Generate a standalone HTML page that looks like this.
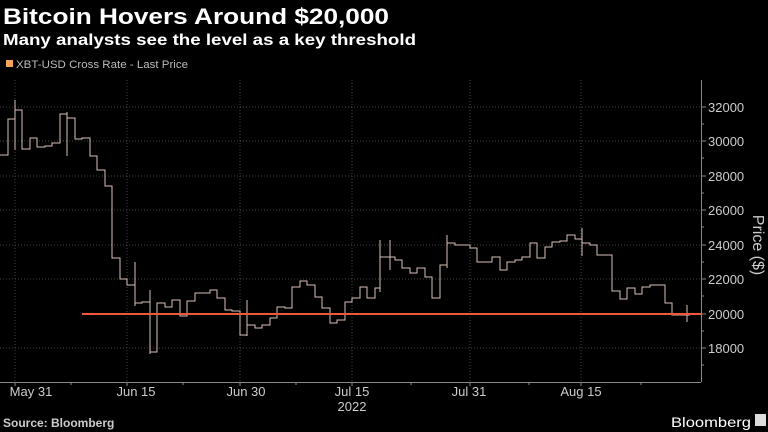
<!DOCTYPE html>
<html><head><meta charset="utf-8"><style>
html,body{margin:0;padding:0;background:#000;width:768px;height:432px;overflow:hidden}
svg{display:block}
text{font-family:"Liberation Sans",sans-serif}
</style></head><body>
<svg width="768" height="432" viewBox="0 0 768 432" xmlns="http://www.w3.org/2000/svg">
<rect width="768" height="432" fill="#000"/>
<text x="3" y="24" fill="#fff" font-size="22" font-weight="bold" textLength="386" lengthAdjust="spacingAndGlyphs">Bitcoin Hovers Around $20,000</text>
<text x="3" y="45" fill="#fff" font-size="16" font-weight="bold" textLength="413" lengthAdjust="spacingAndGlyphs">Many analysts see the level as a key threshold</text>
<rect x="6" y="60" width="7" height="7" fill="#f5a45a"/>
<text x="16" y="68" fill="#bbb" font-size="11" textLength="172" lengthAdjust="spacingAndGlyphs">XBT-USD Cross Rate - Last Price</text>
<g stroke="#444" stroke-width="1" stroke-dasharray="1,2">
<line x1="15" y1="80" x2="15" y2="382"/><line x1="127" y1="80" x2="127" y2="382"/><line x1="240" y1="80" x2="240" y2="382"/><line x1="352" y1="80" x2="352" y2="382"/><line x1="470" y1="80" x2="470" y2="382"/><line x1="581" y1="80" x2="581" y2="382"/>
<line x1="0" y1="107" x2="701" y2="107"/><line x1="0" y1="141" x2="701" y2="141"/><line x1="0" y1="176" x2="701" y2="176"/><line x1="0" y1="210" x2="701" y2="210"/><line x1="0" y1="245" x2="701" y2="245"/><line x1="0" y1="279" x2="701" y2="279"/><line x1="0" y1="348" x2="701" y2="348"/>
</g>
<g stroke="#888" stroke-width="1">
<line x1="701.5" y1="80" x2="701.5" y2="382"/>
<line x1="0" y1="382.5" x2="701" y2="382.5"/>
<line x1="701" y1="107" x2="706" y2="107"/><line x1="701" y1="141" x2="706" y2="141"/><line x1="701" y1="176" x2="706" y2="176"/><line x1="701" y1="210" x2="706" y2="210"/><line x1="701" y1="245" x2="706" y2="245"/><line x1="701" y1="279" x2="706" y2="279"/><line x1="701" y1="314" x2="706" y2="314"/><line x1="701" y1="348" x2="706" y2="348"/>
<line x1="701" y1="124" x2="704" y2="124"/><line x1="701" y1="158" x2="704" y2="158"/><line x1="701" y1="193" x2="704" y2="193"/><line x1="701" y1="227" x2="704" y2="227"/><line x1="701" y1="262" x2="704" y2="262"/><line x1="701" y1="296" x2="704" y2="296"/><line x1="701" y1="331" x2="704" y2="331"/><line x1="701" y1="365" x2="704" y2="365"/>
<line x1="15" y1="382" x2="15" y2="386"/><line x1="127" y1="382" x2="127" y2="386"/><line x1="240" y1="382" x2="240" y2="386"/><line x1="352" y1="382" x2="352" y2="386"/><line x1="470" y1="382" x2="470" y2="386"/><line x1="581" y1="382" x2="581" y2="386"/>
<line x1="411" y1="382" x2="411" y2="385"/><line x1="529" y1="382" x2="529" y2="385"/><line x1="641" y1="382" x2="641" y2="385"/><line x1="71" y1="382" x2="71" y2="385"/><line x1="183" y1="382" x2="183" y2="385"/><line x1="296" y1="382" x2="296" y2="385"/>
</g>
<g fill="#ccc" font-size="13">
<text x="708" y="112">32000</text><text x="708" y="146">30000</text><text x="708" y="181">28000</text><text x="708" y="215">26000</text><text x="708" y="250">24000</text><text x="708" y="284">22000</text><text x="708" y="319">20000</text><text x="708" y="353">18000</text>
</g>
<text transform="translate(753,245) rotate(90)" fill="#ccc" font-size="16" text-anchor="middle">Price ($)</text>
<g fill="#ccc" font-size="13" text-anchor="middle">
<text x="31" y="396">May 31</text><text x="136" y="396">Jun 15</text><text x="246" y="396">Jun 30</text><text x="352" y="396">Jul 15</text><text x="469" y="396">Jul 31</text><text x="581" y="396">Aug 15</text><text x="352" y="411">2022</text>
</g>
<path fill="none" stroke="#d8c0b8" stroke-width="1" d="M0,155 H8 V119 H15 V110 H22 V149 H30 V138 H37 V147 H45 V146 H52 V143 H60 V114 H67 V118 H75 V139 H82 V138 H90 V156 H97 V170 H105 V186 H112 V258 H120 V279 H127 V285 H135 V303 H142 V302 H150 V352 H157 V303 H165 V307 H172 V300 H180 V316 H187 V301 H195 V293 H202 V293 H210 V290 H217 V298 H225 V310 H232 V311 H240 V335 H247 V325 H255 V328 H262 V325 H270 V318 H277 V307 H285 V308 H292 V287 H300 V281 H307 V285 H315 V297 H322 V308 H330 V323 H337 V320 H345 V302 H352 V298 H360 V287 H367 V298 H375 V288 H380 V257 H395 V260 H402 V268 H410 V273 H417 V268 H425 V277 H432 V298 H440 V265 H447 V243 H455 V245 H462 V245 H470 V248 H477 V262 H485 V262 H492 V257 H500 V270 H507 V262 H515 V260 H522 V257 H530 V243 H537 V258 H545 V247 H552 V242 H560 V241 H567 V235 H575 V239 H582 V243 H590 V245 H597 V255 H605 V255 H612 V291 H620 V299 H627 V288 H635 V294 H642 V287 H650 V285 H657 V285 H665 V303 H672 V315 H680 V315 H690"/>
<g stroke="#d8c0b8" stroke-width="1">
<line x1="15" y1="100" x2="15" y2="150"/><line x1="67" y1="112" x2="67" y2="156"/><line x1="150" y1="290" x2="150" y2="354"/><line x1="135" y1="262" x2="135" y2="306"/><line x1="247" y1="300" x2="247" y2="336"/><line x1="390" y1="240" x2="390" y2="270"/><line x1="447" y1="235" x2="447" y2="268"/><line x1="582" y1="228" x2="582" y2="256"/><line x1="687" y1="305" x2="687" y2="322"/><line x1="380" y1="240" x2="380" y2="292"/>
</g>
<line x1="82" y1="314" x2="701" y2="314" stroke="#f0583c" stroke-width="2"/>
<text x="3" y="427" fill="#ccc" font-size="12" font-weight="bold">Source: Bloomberg</text>
<text x="671" y="427" fill="#fff" font-size="14" textLength="80" lengthAdjust="spacingAndGlyphs">Bloomberg</text>
<rect x="755" y="414" width="11" height="12" fill="#ddd"/>
</svg>
</body></html>
